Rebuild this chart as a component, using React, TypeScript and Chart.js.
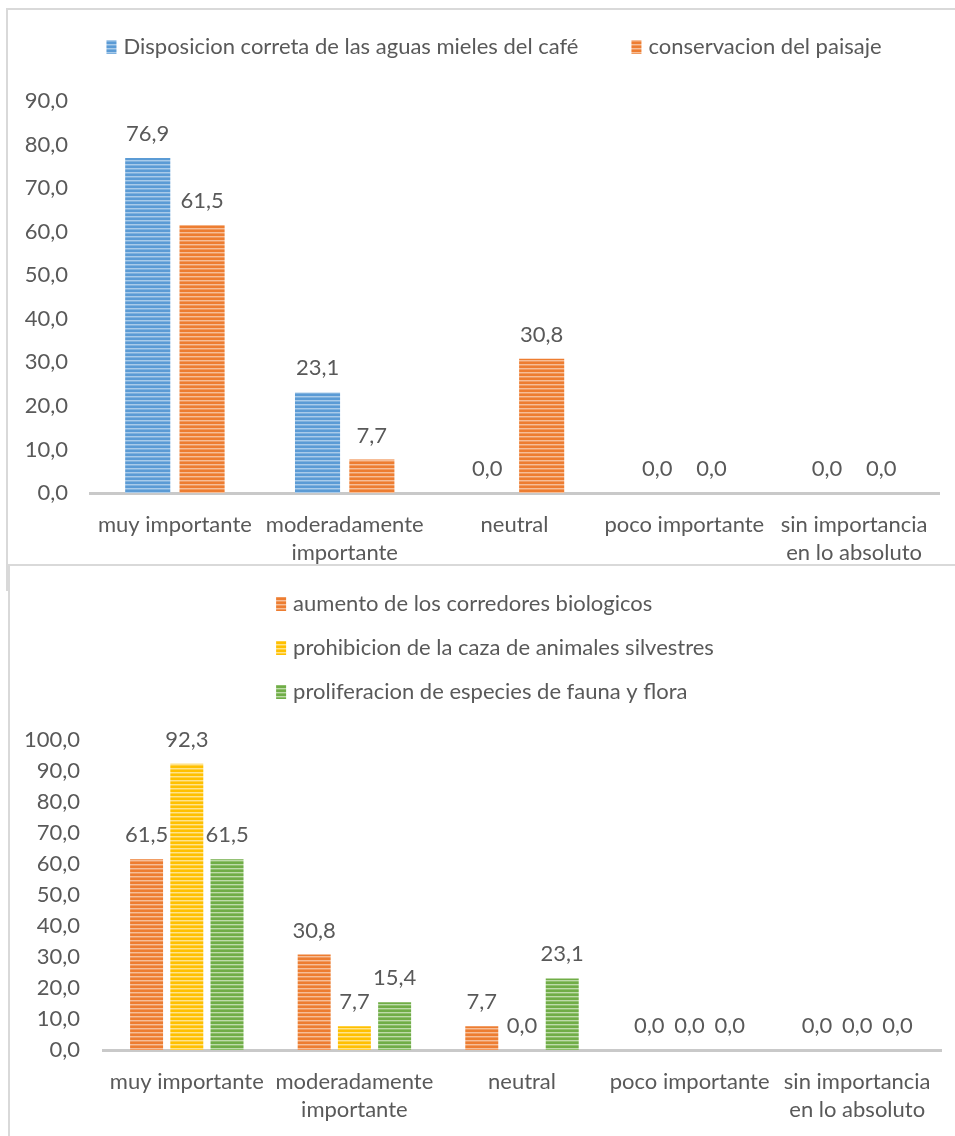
import React, { useEffect, useRef } from 'react';
import { Chart, registerables } from 'chart.js';

Chart.register(...registerables);

// ---------- data ----------
const categories: string[][] = [
  ['muy importante'],
  ['moderadamente', 'importante'],
  ['neutral'],
  ['poco importante'],
  ['sin importancia', 'en lo absoluto'],
];

const topSeriesNames = ['Disposicion correta de las aguas mieles del café', 'conservacion del paisaje'];
const topAguasMieles = [76.9, 23.1, 0.0, 0.0, 0.0];
const topPaisaje = [61.5, 7.7, 30.8, 0.0, 0.0];
const topYMax = 90;

const bottomSeriesNames = [
  'aumento de los corredores biologicos',
  'prohibicion de la caza de animales silvestres',
  'proliferacion de especies de fauna y flora',
];
const bottomCorredores = [61.5, 30.8, 7.7, 0.0, 0.0];
const bottomCaza = [92.3, 7.7, 0.0, 0.0, 0.0];
const bottomFauna = [61.5, 15.4, 23.1, 0.0, 0.0];
const bottomYMax = 100;

// ---------- styles ----------
const FONT = 'Lato, "Liberation Sans", sans-serif';
const FONT_SIZE = 22;
const TEXT = '#595959';
const AXIS = '#c9c9c9';

const COLORS = {
  blue: ['#5B9BD5', '#A9CBEA', '#7FB1DE'],
  orange: ['#ED7D31', '#F6BE98', '#F19A5E'],
  yellow: ['#FFC000', '#FFE38A', '#FFCF40'],
  green: ['#70AD47', '#BEDBAA', '#8DBF6B'],
};

const fmt = (v: number) => v.toFixed(1).replace('.', ',');

function makeStripe(ctx: CanvasRenderingContext2D, cols: string[]) {
  const c = document.createElement('canvas');
  c.width = 8;
  c.height = 4;
  const x = c.getContext('2d')!;
  x.fillStyle = cols[0];
  x.fillRect(0, 0, 8, 2);
  x.fillStyle = cols[1];
  x.fillRect(0, 2, 8, 1);
  x.fillStyle = cols[2];
  x.fillRect(0, 3, 8, 1);
  return ctx.createPattern(c, 'repeat') as CanvasPattern;
}

const valueLabels = {
  id: 'valueLabels',
  afterDatasetsDraw(chart: any) {
    const ctx = chart.ctx;
    ctx.save();
    ctx.font = `${FONT_SIZE}px ${FONT}`;
    ctx.fillStyle = TEXT;
    ctx.textAlign = 'center';
    ctx.textBaseline = 'middle';
    chart.data.datasets.forEach((ds: any, i: number) => {
      const meta = chart.getDatasetMeta(i);
      meta.data.forEach((el: any, j: number) => {
        ctx.fillText(fmt(ds.data[j]), el.x, el.y - 24);
      });
    });
    ctx.restore();
  },
};

const customLegend = {
  id: 'customLegend',
  afterDraw(chart: any, _args: any, opts: any) {
    const ctx = chart.ctx;
    ctx.save();
    ctx.font = `${FONT_SIZE}px ${FONT}`;
    ctx.textBaseline = 'middle';
    ctx.textAlign = 'left';
    const items = chart.data.datasets.map((ds: any) => ({
      text: ds.label,
      fill: ds.backgroundColor,
      w: ctx.measureText(ds.label).width,
    }));
    const box = 10;
    const boxGap = 7;
    if (opts.layout === 'row') {
      const gap = opts.itemGap;
      const total = items.reduce((s: number, it: any) => s + box + boxGap + it.w, 0) + gap * (items.length - 1);
      let x = opts.centerX - total / 2;
      items.forEach((it: any) => {
        ctx.fillStyle = it.fill;
        ctx.fillRect(x, opts.y - 7, box, 14);
        ctx.fillStyle = TEXT;
        ctx.fillText(it.text, x + box + boxGap, opts.y);
        x += box + boxGap + it.w + gap;
      });
    } else {
      const maxW = Math.max(...items.map((it: any) => it.w));
      const x = opts.centerX - (box + boxGap + maxW) / 2;
      items.forEach((it: any, k: number) => {
        const y = opts.y + k * opts.rowGap;
        ctx.fillStyle = it.fill;
        ctx.fillRect(x, y - 7, box, 14);
        ctx.fillStyle = TEXT;
        ctx.fillText(it.text, x + box + boxGap, y);
      });
    }
    ctx.restore();
  },
};

interface ChartProps {
  width: number;
  height: number;
  left: number;
  top: number;
  series: { name: string; data: number[]; colors: string[] }[];
  yMax: number;
  padTop: number;
  padRight: number;
  yWidth: number;
  yPad: number;
  xHeight: number;
  cat: number;
  bar: number;
  legend: any;
}

function BarChart(p: ChartProps) {
  const ref = useRef<HTMLCanvasElement | null>(null);
  useEffect(() => {
    const canvas = ref.current!;
    const ctx = canvas.getContext('2d')!;
    const chart = new Chart(canvas, {
      type: 'bar',
      data: {
        labels: categories,
        datasets: p.series.map((s) => ({
          label: s.name,
          data: s.data,
          backgroundColor: makeStripe(ctx, s.colors),
          borderWidth: 0,
          categoryPercentage: p.cat,
          barPercentage: p.bar,
        })),
      },
      options: {
        responsive: false,
        animation: false,
        layout: { padding: { top: p.padTop, right: p.padRight, left: 0, bottom: 0 } },
        plugins: {
          legend: { display: false },
          tooltip: { enabled: false },
          customLegend: p.legend,
        } as any,
        scales: {
          x: {
            grid: { display: false, drawTicks: false },
            border: { display: true, color: AXIS, width: 3 },
            ticks: {
              color: TEXT,
              font: { family: FONT, size: FONT_SIZE, lineHeight: 1.27 },
              padding: 18,
              maxRotation: 0,
              autoSkip: false,
            },
            afterFit: (s: any) => {
              s.height = p.xHeight;
            },
          },
          y: {
            min: 0,
            max: p.yMax,
            grid: { display: false, drawTicks: false },
            border: { display: false },
            ticks: {
              stepSize: 10,
              color: TEXT,
              font: { family: FONT, size: FONT_SIZE },
              padding: p.yPad,
              callback: (v: any) => fmt(Number(v)),
            },
            afterFit: (s: any) => {
              s.width = p.yWidth;
            },
          },
        },
      },
      plugins: [valueLabels, customLegend],
    });
    return () => chart.destroy();
  }, []);
  return (
    <canvas
      ref={ref}
      width={p.width}
      height={p.height}
      style={{ position: 'absolute', left: p.left, top: p.top, width: p.width, height: p.height }}
    />
  );
}

export default function App() {
  return (
    <div style={{ position: 'fixed', left: 0, top: 0, width: 955, height: 1136, overflow: 'hidden', background: '#fff' }}>
      <div
        style={{
          position: 'absolute',
          left: 6,
          top: 8,
          width: 1000,
          height: 579,
          border: '2px solid #d9d9d9',
          background: '#fff',
        }}
      />
      <BarChart
        left={8}
        top={10}
        width={947}
        height={554}
        series={[
          { name: topSeriesNames[0], data: topAguasMieles, colors: COLORS.blue },
          { name: topSeriesNames[1], data: topPaisaje, colors: COLORS.orange },
        ]}
        yMax={topYMax}
        padTop={91}
        padRight={16}
        yWidth={82}
        yPad={22}
        xHeight={71}
        cat={0.64}
        bar={0.83}
        legend={{ layout: 'row', centerX: 486, y: 37, itemGap: 53 }}
      />
      <div
        style={{
          position: 'absolute',
          left: 8,
          top: 564,
          width: 1000,
          height: 600,
          border: '2px solid #d9d9d9',
          background: '#fff',
        }}
      />
      <BarChart
        left={10}
        top={566}
        width={945}
        height={570}
        series={[
          { name: bottomSeriesNames[0], data: bottomCorredores, colors: COLORS.orange },
          { name: bottomSeriesNames[1], data: bottomCaza, colors: COLORS.yellow },
          { name: bottomSeriesNames[2], data: bottomFauna, colors: COLORS.green },
        ]}
        yMax={bottomYMax}
        padTop={174}
        padRight={14}
        yWidth={93}
        yPad={23}
        xHeight={86}
        cat={0.72}
        bar={0.82}
        legend={{ layout: 'column', centerX: 485, y: 38, rowGap: 44 }}
      />
    </div>
  );
}
